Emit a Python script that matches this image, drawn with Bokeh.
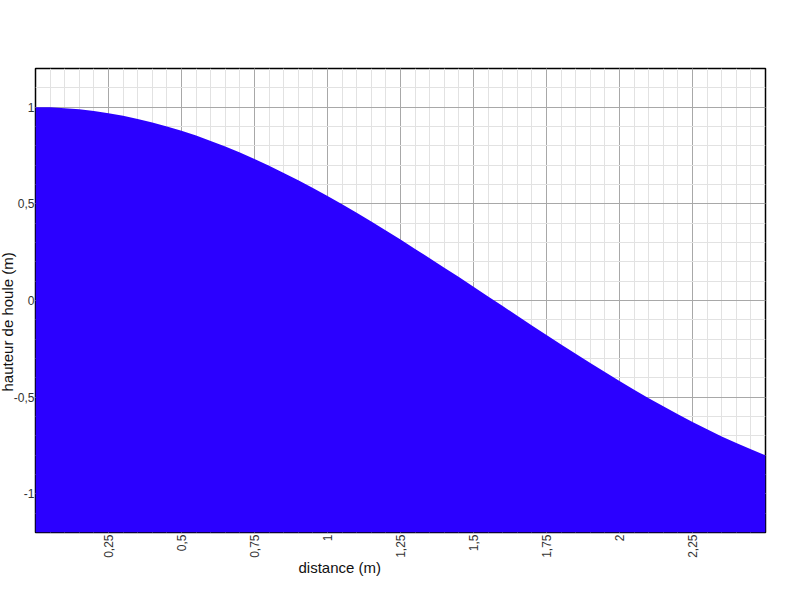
from math import pi
from bokeh.plotting import figure
from bokeh.models import FixedTicker, Range1d, Title
from bokeh.embed import file_html
from bokeh.resources import INLINE

# ---- data ----
distance = [0.0, 0.05, 0.1, 0.15, 0.2, 0.25, 0.3, 0.35, 0.4, 0.45, 0.5, 0.55,
            0.6, 0.65, 0.7, 0.75, 0.8, 0.85, 0.9, 0.95, 1.0, 1.05, 1.1, 1.15,
            1.2, 1.25, 1.3, 1.35, 1.4, 1.45, 1.5, 1.55, 1.6, 1.65, 1.7, 1.75,
            1.8, 1.85, 1.9, 1.95, 2.0, 2.05, 2.1, 2.15, 2.2, 2.25, 2.3, 2.35,
            2.4, 2.45, 2.5]
hauteur = [1.000, 0.999, 0.995, 0.989, 0.980, 0.969, 0.955, 0.939, 0.921,
           0.900, 0.878, 0.853, 0.825, 0.796, 0.765, 0.732, 0.697, 0.660,
           0.622, 0.582, 0.540, 0.498, 0.454, 0.408, 0.362, 0.315, 0.267,
           0.219, 0.170, 0.121, 0.071, 0.021, -0.029, -0.079, -0.129, -0.178,
           -0.227, -0.276, -0.323, -0.370, -0.416, -0.461, -0.505, -0.547,
           -0.589, -0.628, -0.666, -0.703, -0.737, -0.770, -0.801]

x_ticks = [0.25, 0.5, 0.75, 1.0, 1.25, 1.5, 1.75, 2.0, 2.25]
x_tick_labels = ["0,25", "0,5", "0,75", "1", "1,25", "1,5", "1,75", "2", "2,25"]
x_minor = [round(i * 0.05, 2) for i in range(0, 51)]
y_ticks = [-1.0, -0.5, 0.0, 0.5, 1.0]
y_tick_labels = ["-1", "-0,5", "0", "0,5", "1"]
y_minor = [round(-1.2 + i * 0.1, 2) for i in range(0, 25)]

x_title = "distance (m)"
y_title = "hauteur de houle (m)"

FONT = "Liberation Sans"

p = figure(frame_width=730, frame_height=464,
           min_border_left=35, min_border_right=33,
           min_border_top=68, min_border_bottom=64,
           x_range=Range1d(0, 2.5), y_range=Range1d(-1.2, 1.2),
           output_backend="svg", toolbar_location=None,
           background_fill_color="white", border_fill_color="white")

p.outline_line_color = "black"
p.outline_line_width = 1.5

p.xaxis.ticker = FixedTicker(ticks=x_ticks, minor_ticks=x_minor)
p.yaxis.ticker = FixedTicker(ticks=y_ticks, minor_ticks=y_minor)
p.xaxis.major_label_overrides = dict(zip(x_ticks, x_tick_labels))
p.yaxis.major_label_overrides = dict(zip(y_ticks, y_tick_labels))
p.xaxis.major_label_orientation = pi / 2

for ax in (p.xaxis, p.yaxis):
    ax.axis_line_color = None
    ax.major_tick_line_color = None
    ax.minor_tick_line_color = None
    ax.major_tick_in = 0
    ax.major_tick_out = 0
    ax.minor_tick_in = 0
    ax.minor_tick_out = 0
    ax.major_label_text_font = FONT
    ax.major_label_text_font_size = "12px"
    ax.major_label_text_color = "#333333"
p.xaxis.major_label_standoff = 2
p.yaxis.major_label_standoff = 1

p.grid.grid_line_color = "#a8a8a8"
p.grid.grid_line_width = 1
p.grid.minor_grid_line_color = "#e2e2e2"
p.grid.minor_grid_line_width = 1

p.varea(x=distance, y1=[-1.2] * len(distance), y2=hauteur, fill_color="#2b00ff")

p.add_layout(Title(text=x_title, align="left", offset=263, standoff=-30,
                   text_font=FONT, text_font_size="15px",
                   text_font_style="normal", text_color="#111111"), "below")
p.add_layout(Title(text=y_title, align="left", offset=141, standoff=-10,
                   text_font=FONT, text_font_size="15px",
                   text_font_style="normal", text_color="#111111"), "left")

open("out.html", "w").write(file_html(p, INLINE))
